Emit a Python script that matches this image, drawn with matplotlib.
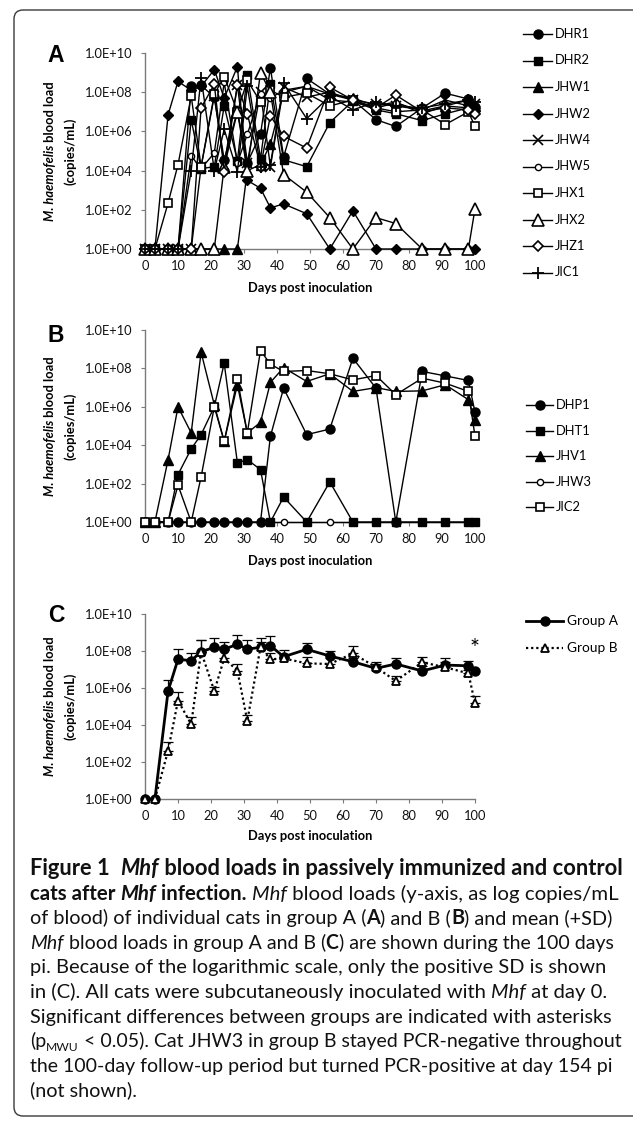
import matplotlib
matplotlib.use("Agg")
import matplotlib.pyplot as plt
import numpy as np
from matplotlib.lines import Line2D
from matplotlib.patches import FancyBboxPatch
from matplotlib.ticker import NullLocator

W, H, DPI = 633, 1126, 100
CHART_FONT = ['Lato', 'DejaVu Sans']
CAP_FONT = ['Lato', 'DejaVu Sans']
LETTER_FONT = ['Liberation Sans', 'DejaVu Sans']
plt.rcParams['font.family'] = CHART_FONT

# ---------------- data (log10 copies/mL; 0 = PCR negative plotted at 1.0E+00) -------------
days = [0, 3, 7, 10, 14, 17, 21, 24, 28, 31, 35, 38, 42, 49, 56, 63, 70, 76, 84, 91, 98, 100]

# Panel A (group A cats)
a_names = ['DHR1', 'DHR2', 'JHW1', 'JHW2', 'JHW4', 'JHW5', 'JHX1', 'JHX2', 'JHZ1', 'JIC1']
dhr1 = [0, 0, 0, 0, 8.3, 8.35, 7.75, 4.55, 7.05, 4.4, 5.85, 9.25, 4.7, 8.7, 7.9, 7.6, 6.6, 6.25, 7.2, 7.95, 7.65, 7.25]
dhr2 = [0, 0, 0, 0, 6.6, 4.1, 4.2, 7.3, 4.5, 8.9, 4.6, 8.4, 4.55, 4.2, 6.45, 7.55, 7.1, 6.9, 6.55, 6.9, 7.2, 7.1]
jhw1 = [0, 0, 0, 0, 0, 0, 0, 0, 0, 4.0, 4.3, 5.35, 8.0, 8.3, 7.9, 7.7, 7.3, 7.5, 6.9, 7.3, 7.6, 7.3]
jhw2 = [0, 0, 6.85, 8.55, 8.1, 8.3, 9.15, 7.7, 9.3, 3.5, 3.1, 2.1, 2.3, 1.8, 0, 1.95, 0, 0, 0, 0, 0, 0]
jhw4 = [0, 0, 0, 0, 0, 4.2, 7.8, 4.3, 8.35, 4.4, 8.0, 4.2, 8.25, 7.75, 8.0, 7.6, 7.4, 7.3, 7.1, 7.6, 7.3, 7.4]
jhw5 = [0, 0, 0, 0, 4.75, 4.1, 4.9, 8.5, 4.4, 5.85, 7.9, 7.7, 8.1, 8.3, 7.6, 7.5, 7.2, 7.45, 7.05, 7.3, 7.2, 7.0]
jhx1 = [0, 0, 2.35, 4.3, 7.8, 4.2, 7.9, 8.8, 7.0, 8.6, 7.5, 8.1, 7.75, 7.95, 7.3, 7.6, 7.2, 7.0, 7.1, 6.35, 7.0, 6.25]
jhx2 = [0, 0, 0, 0, 0, 0, 0, 4.2, 7.0, 4.0, 9.0, 8.0, 3.8, 2.9, 1.6, 0, 1.6, 1.3, 0, 0, 0, 2.05]
jhz1 = [0, 0, 0, 0, 0, 7.2, 8.4, 3.95, 8.35, 6.9, 4.2, 6.8, 5.75, 5.15, 8.25, 7.6, 7.2, 7.85, 7.0, 7.2, 7.1, 6.9]
jic1 = [0, 0, 0, 0, 4.0, 8.75, 4.0, 6.1, 3.95, 8.3, 4.2, 4.3, 8.45, 6.65, 7.8, 7.1, 7.5, 7.3, 7.2, 7.4, 7.6, 7.5]

# Panel B (group B cats)
b_names = ['DHP1', 'DHT1', 'JHV1', 'JHW3', 'JIC2']
dhp1 = [0, 0, 0, 0, 0, 0, 0, 0, 0, 0, 0, 4.46, 6.97, 4.55, 4.84, 8.53, 6.97, 0, 7.84, 7.61, 7.37, 5.71]
dht1 = [0, 0, 0, 2.47, 3.81, 4.55, 6.0, 8.27, 3.08, 3.25, 2.73, 0, 1.3, 0, 2.09, 0, 0, 0, 0, 0, 0, 0]
jhv1 = [0, 0, 3.25, 6.0, 4.64, 8.84, 6.1, 4.2, 7.15, 4.64, 5.19, 7.27, 8.04, 7.32, 7.72, 6.8, 7.0, 6.8, 6.83, 7.15, 6.37, 5.33]
jhw3 = [0, 0, 0, 0, 0, 0, 0, 0, 0, 0, 0, 0, 0, 0, 0, 0, 0, 0, 0, 0, 0, 0]
jic2 = [0, 0, 0, 1.92, 0, 2.35, 6.0, 4.2, 7.44, 4.64, 8.93, 8.22, 7.84, 7.89, 7.72, 7.4, 7.63, 6.63, 7.49, 7.23, 6.8, 4.46]

# Panel C (group means and top of +SD bar)
c_names = ['Group A', 'Group B']
grp_a = [0, 0, 5.84, 7.55, 7.48, 7.96, 8.2, 8.1, 8.36, 8.1, 8.2, 8.29, 7.69, 8.09, 7.73, 7.42, 7.06, 7.3, 6.92, 7.24, 7.2, 6.94]
grp_a_sd = [np.nan, np.nan, 6.43, 8.1, 7.9, 8.6, 8.68, 8.5, 8.86, 8.6, 8.68, 8.8, 8.05, 8.45, 8.0, 7.6, 7.42, 7.6, 7.2, 7.6, 7.48, np.nan]
grp_b = [0, 0, 2.61, 5.32, 4.04, 7.96, 5.84, 7.6, 6.94, 4.23, 8.2, 7.55, 7.6, 7.33, 7.3, 7.87, 7.12, 6.38, 7.39, 7.12, 6.79, 5.17]
grp_b_sd = [np.nan, np.nan, 3.1, 5.8, 4.41, 8.6, 6.03, 8.05, 7.3, 4.54, 8.5, 7.9, 7.8, 7.69, 7.6, 8.29, 7.3, 6.67, 7.69, 7.4, 7.0, 5.57]
sig_day = 100
sig_level = 8.15

ytick_vals = [1e0, 1e2, 1e4, 1e6, 1e8, 1e10]
ytick_labels = ['1.0E+00', '1.0E+02', '1.0E+04', '1.0E+06', '1.0E+08', '1.0E+10']
xtick_vals = list(range(0, 101, 10))
x_title = 'Days post inoculation'

# ---------------- figure ----------------
fig = plt.figure(figsize=(W / DPI, H / DPI), dpi=DPI)
fig.patch.set_facecolor('white')
ov = fig.add_axes([0, 0, 1, 1], zorder=10)
ov.set_xlim(0, W)
ov.set_ylim(H, 0)
ov.axis('off')
ov.patch.set_alpha(0)
r = fig.canvas.get_renderer()

AXC = '#7a7a7a'
PT = 72.0 / DPI  # px -> pt


def px_axes(left, top, right, bottom):
    ax = fig.add_axes([left / W, 1 - bottom / H, (right - left) / W, (bottom - top) / H])
    ax.set_yscale('log')
    ax.set_ylim(1, 1e10)
    ax.set_xlim(0, 100)
    ax.set_yticks(ytick_vals)
    ax.set_yticklabels(ytick_labels)
    ax.yaxis.set_minor_locator(NullLocator())
    ax.set_xticks(xtick_vals)
    ax.set_xticklabels([str(v) for v in xtick_vals])
    for s in ['top', 'right']:
        ax.spines[s].set_visible(False)
    for s in ['left', 'bottom']:
        ax.spines[s].set_color(AXC)
        ax.spines[s].set_linewidth(1.0)
    ax.tick_params(axis='both', direction='out', length=4 * PT, width=0.8, color=AXC,
                   labelsize=9.3, labelcolor='#111111')
    ax.tick_params(axis='y', pad=8 * PT)
    ax.tick_params(axis='x', pad=7 * PT)
    ax.patch.set_alpha(0)
    return ax


def series(ax, vals, marker, fc, ms, mew=1.0, z=3, ls='-', lw=1.0):
    ax.plot(days, 10 ** np.array(vals, dtype=float), color='black', lw=lw, ls=ls,
            marker=marker, ms=ms, mfc=fc, mec='black', mew=mew, clip_on=False, zorder=z)


STY = {
    'o': ('o', 'black', 6.5, 1.0),
    's': ('s', 'black', 6.0, 1.0),
    '^': ('^', 'black', 7.0, 1.0),
    'D': ('D', 'black', 5.5, 1.0),
    'x': ('x', 'black', 7.0, 1.2),
    'os': ('o', 'white', 4.5, 1.0),
    'so': ('s', 'white', 6.0, 1.2),
    '^o': ('^', 'white', 8.0, 1.2),
    'Do': ('D', 'white', 5.5, 1.2),
    '+': ('+', 'black', 8.0, 1.3),
}

# ---------- panel A ----------
axA = px_axes(145, 53, 475, 249)
a_data = [dhr1, dhr2, jhw1, jhw2, jhw4, jhw5, jhx1, jhx2, jhz1, jic1]
a_sty = ['o', 's', '^', 'D', 'x', 'os', 'so', '^o', 'Do', '+']
for i, (vals, st) in enumerate(zip(a_data, a_sty)):
    m, fc, ms, mew = STY[st]
    series(axA, vals, m, fc, ms, mew, z=3 + i * 0.1)

# ---------- panel B ----------
axB = px_axes(145, 330, 475, 522)
b_data = [dhp1, dht1, jhv1, jhw3, jic2]
b_sty = ['o', 's', '^', 'os', 'so']
b_z = [3.1, 3.2, 3.3, 3.0, 3.4]
for vals, st, z in zip(b_data, b_sty, b_z):
    m, fc, ms, mew = STY[st]
    series(axB, vals, m, fc, ms, mew, z=z)

# ---------- panel C ----------
axC = px_axes(145, 614, 475, 799)
d = np.array(days, dtype=float)
for mean, top in [(grp_a, grp_a_sd), (grp_b, grp_b_sd)]:
    mean = np.array(mean, dtype=float)
    top = np.array(top, dtype=float)
    ok = ~np.isnan(top)
    m = 10 ** mean[ok]
    e = 10 ** top[ok] - m
    axC.errorbar(d[ok], m, yerr=[np.zeros_like(e), e], fmt='none', ecolor='black',
                 elinewidth=0.9, capsize=3.5, capthick=0.9, zorder=2, clip_on=False)
axC.plot(days, 10 ** np.array(grp_a), color='black', lw=2.0, marker='o', ms=6.5,
         mfc='black', mec='black', clip_on=False, zorder=3)
axC.plot(days, 10 ** np.array(grp_b), color='black', lw=1.6, ls=(0, (1, 1.3)), marker='^', ms=6.0,
         mfc='white', mec='black', mew=1.3, clip_on=False, zorder=4)
axC.text(sig_day, 10 ** sig_level, '*', ha='center', va='center', fontsize=17,
         family=CHART_FONT, clip_on=False)

# ---------- text helpers ----------
def tw(s, **kw):
    t = ov.text(0, 0, s, **kw)
    w = t.get_window_extent(renderer=r).width
    t.remove()
    return w


def ylabel(cy, x1=50, x2=70):
    p1 = dict(fontsize=9.3, fontweight='bold', fontstyle='italic', family=CHART_FONT)
    p2 = dict(fontsize=9.3, fontweight='bold', family=CHART_FONT)
    s1, s2 = 'M. haemofelis', ' blood load'
    w1, w2 = tw(s1, **p1), tw(s2, **p2)
    y0 = cy + (w1 + w2) / 2
    ov.text(x1, y0, s1, rotation=90, rotation_mode='anchor', ha='left', va='center', **p1)
    ov.text(x1, y0 - w1, s2, rotation=90, rotation_mode='anchor', ha='left', va='center', **p2)
    ov.text(x2, cy, '(copies/mL)', rotation=90, rotation_mode='anchor', ha='center', va='center', **p2)


for cy, ly, let, xl_y in [(151, 55, 'A', 288), (426, 335, 'B', 561), (706, 616, 'C', 836)]:
    ylabel(cy)
    ov.text(56, ly, let, fontsize=16.5, fontweight='bold', family=LETTER_FONT, ha='center', va='center')
    ov.text(310, xl_y, x_title, fontsize=9.3, fontweight='bold', ha='center', va='center')

# ---------- legends ----------
def legend_entry(x0, x1, y, label, marker, fc, ms, mew, ls='-', lw=1.0, tx=None, fs=9.3):
    ov.add_line(Line2D([x0, x1], [y, y], color='black', lw=lw, ls=ls))
    ov.add_line(Line2D([(x0 + x1) / 2], [y], marker=marker, ms=ms, mfc=fc, mec='black', mew=mew, ls='none'))
    ov.text(tx if tx else x1 + 3, y, label, fontsize=fs, ha='left', va='center')


for i, (name, st) in enumerate(zip(a_names, a_sty)):
    m, fc, ms, mew = STY[st]
    legend_entry(523, 552, 34 + i * 26.5, name, m, fc, ms, mew)
for i, (name, st) in enumerate(zip(b_names, b_sty)):
    m, fc, ms, mew = STY[st]
    legend_entry(526, 553, 405 + i * 25.6, name, m, fc, ms, mew)
legend_entry(526, 563, 621, c_names[0], 'o', 'black', 6.5, 1.0, lw=2.0, tx=567, fs=9.8)
legend_entry(526, 563, 648, c_names[1], '^', 'white', 6.0, 1.3, ls=(0, (1, 1.3)), lw=1.6, tx=567, fs=9.8)

# ---------- border ----------
ov.add_patch(FancyBboxPatch((14, 10), 660 - 14, 1116 - 10, boxstyle='round,pad=0,rounding_size=9',
                            fill=False, ec='#3a3a3a', lw=1.0))

# ---------- caption ----------
B, BI, I, R, SUB = 'b', 'bi', 'i', 'r', 'sub'
cap_lines = [
    [('Figure 1  ', B), ('Mhf', BI), (' blood loads in passively immunized and control', B)],
    [('cats after ', B), ('Mhf', BI), (' infection.', B), (' ', R), ('Mhf', I), (' blood loads (y-axis, as log copies/mL', R)],
    [('of blood) of individual cats in group A (', R), ('A', B), (') and B (', R), ('B', B), (') and mean (+SD)', R)],
    [('Mhf', I), (' blood loads in group A and B (', R), ('C', B), (') are shown during the 100 days', R)],
    [('pi. Because of the logarithmic scale, only the positive SD is shown', R)],
    [('in (C). All cats were subcutaneously inoculated with ', R), ('Mhf', I), (' at day 0.', R)],
    [('Significant differences between groups are indicated with asterisks', R)],
    [('(p', R), ('MWU', SUB), (' < 0.05). Cat JHW3 in group B stayed PCR-negative throughout', R)],
    [('the 100-day follow-up period but turned PCR-positive at day 154 pi', R)],
    [('(not shown).', R)],
]
cap_ends = [622, 618, 614, 614, 608, 607, 614, 620, 613, None]


def run_kw(style, size):
    kw = dict(fontsize=size, family=CAP_FONT, color='#111111')
    if 'b' in style and style != SUB:
        kw['fontweight'] = 'bold'
    if 'i' in style:
        kw['fontstyle'] = 'italic'
    if style == SUB:
        kw['fontsize'] = size * 0.62
    return kw


def line_width(runs, size):
    return sum(tw(s, **run_kw(st, size)) for s, st in runs)


base = 10.0
x_start, y_first, step = 30, 875, 24.6
sizes = []
for runs, end in zip(cap_lines, cap_ends):
    if end is None:
        sizes.append(float(np.median(sizes[1:])))
    else:
        sizes.append(base * (end - x_start) / line_width(runs, base))
for li, runs in enumerate(cap_lines):
    x = x_start
    y = y_first + li * step
    for s, st in runs:
        kw = run_kw(st, sizes[li])
        yy = y + (4 if st == SUB else 0)
        t = ov.text(x, yy, s, ha='left', va='baseline', **kw)
        x += t.get_window_extent(renderer=r).width

fig.savefig('out.png', dpi=DPI, facecolor='white')
